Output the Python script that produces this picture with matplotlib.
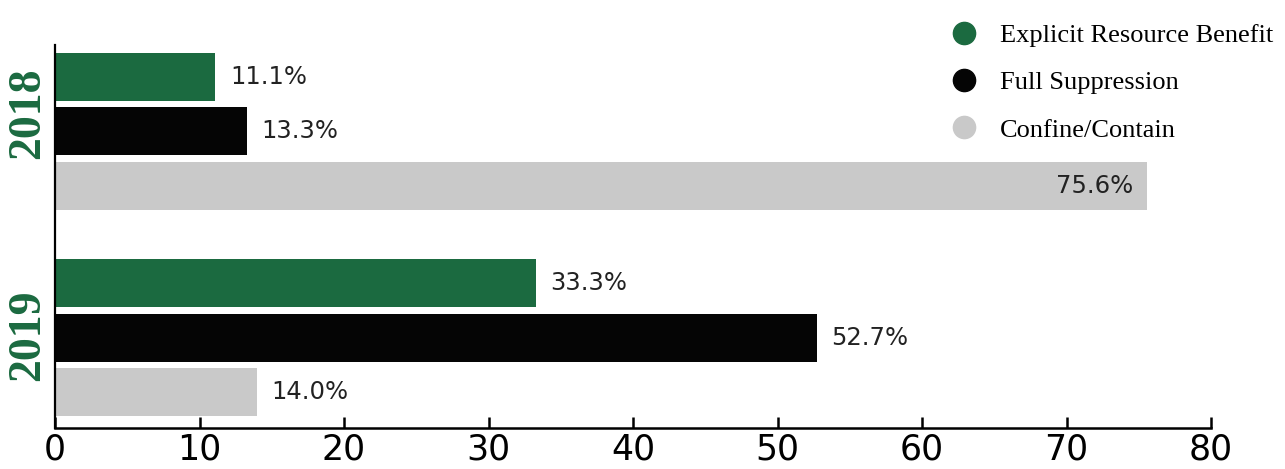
import matplotlib
matplotlib.use("Agg")
import matplotlib.pyplot as plt
from matplotlib.lines import Line2D
import numpy as np

# data
years = ["2018", "2019"]
series = ["Explicit Resource Benefit", "Full Suppression", "Confine/Contain"]
explicit = [11.1, 33.3]
full_supp = [13.3, 52.7]
confine = [75.6, 14.0]
colors = ["#1b6a40", "#050505", "#c9c9c9"]

fig = plt.figure(figsize=(12.85, 4.69), dpi=100)
ax = fig.add_axes([55 / 1285, 1 - 428 / 469, (1211 - 55) / 1285, (428 - 45) / 469])

group_pos = np.array([0.0, 3.79])
offsets = [-1, 0, 1]
bar_h = 0.88

for vals, off, col in zip([explicit, full_supp, confine], offsets, colors):
    ypos = group_pos + off
    ax.barh(ypos, vals, height=bar_h, color=col, zorder=2)
    for y, v in zip(ypos, vals):
        if v > 70:
            ax.text(v - 1.0, y, f"{v:.1f}%", ha="right", va="center",
                    fontsize=17.5, color="#222222")
        else:
            ax.text(v + 1.0, y, f"{v:.1f}%", ha="left", va="center",
                    fontsize=17.5, color="#222222")

ax.set_xlim(0, 80)
ax.set_ylim(5.45, -1.58)
ax.set_xticks(range(0, 81, 10))
ax.set_yticks([])
for lab in ax.get_xticklabels():
    lab.set_fontsize(25)
ax.tick_params(axis="x", direction="in", length=8, width=1.8, pad=3, colors="#000000")
ax.spines["top"].set_visible(False)
ax.spines["right"].set_visible(False)
ax.spines["left"].set_linewidth(1.6)
ax.spines["bottom"].set_linewidth(1.8)

# year labels (2018 sits a little above its group centre in the reference)
year_y = group_pos + np.array([-0.33, -0.05])
for y, yr in zip(year_y, years):
    ax.text(-0.0234, y, yr, transform=ax.get_yaxis_transform(), rotation=90,
            ha="center", va="center", fontsize=33, fontweight="bold",
            family="Liberation Serif", color="#1b6a40")

handles = [Line2D([], [], marker="o", linestyle="none", markersize=16,
                  markerfacecolor=c, markeredgecolor=c) for c in colors]
fig.legend(handles, series, loc="upper left", bbox_to_anchor=(914 / 1285, 1.0),
           frameon=False, prop={"family": "Liberation Serif", "size": 19},
           labelspacing=0.9, handletextpad=0.35, borderaxespad=0.5)

fig.savefig("out.png", dpi=100)
